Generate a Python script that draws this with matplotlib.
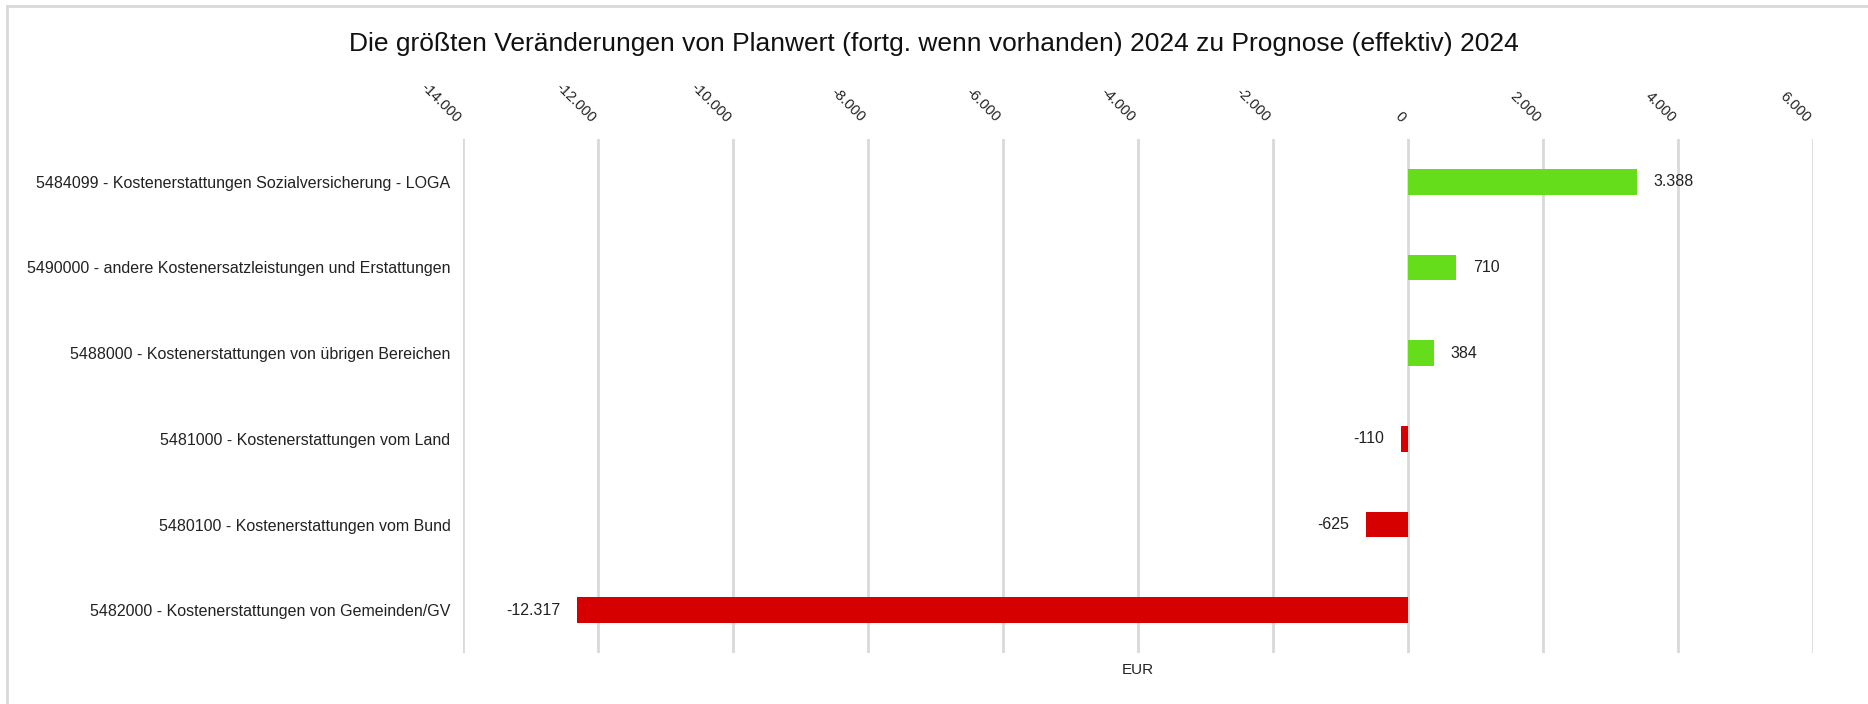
import matplotlib
matplotlib.use("Agg")
import matplotlib.pyplot as plt
from matplotlib.ticker import FuncFormatter, MultipleLocator
from matplotlib.lines import Line2D

plt.rcParams["font.family"] = ["Liberation Sans", "DejaVu Sans"]

# ─── Data ──────────────────────────────────────────────────────────
categories = [
    "5484099 - Kostenerstattungen Sozialversicherung - LOGA",
    "5490000 - andere Kostenersatzleistungen und Erstattungen",
    "5488000 - Kostenerstattungen von übrigen Bereichen",
    "5481000 - Kostenerstattungen vom Land",
    "5480100 - Kostenerstattungen vom Bund",
    "5482000 - Kostenerstattungen von Gemeinden/GV",
]
values = [3388, 710, 384, -110, -625, -12317]

GREEN = "#66DD1A"
RED = "#D60000"
GRID = "#D9D9D9"


def de_fmt(v):
    s = f"{abs(int(round(v))):,}".replace(",", ".")
    return "-" + s if v < 0 else s


fig = plt.figure(figsize=(18.68, 7.04), dpi=100)
ax = fig.add_axes([0.2479, 0.0724, 0.7227, 0.7302])

y = list(range(len(categories)))
colors = [GREEN if v >= 0 else RED for v in values]
ax.barh(y, values, height=0.3, color=colors, zorder=3)
ax.set_ylim(len(categories) - 0.5, -0.5)
ax.set_xlim(-14000, 6000)

for yi, v in zip(y, values):
    if v >= 0:
        ax.annotate(de_fmt(v), xy=(v, yi), xytext=(12, 0), textcoords="offset points",
                    ha="left", va="center", fontsize=11.5, color="#222222")
    else:
        ax.annotate(de_fmt(v), xy=(v, yi), xytext=(-12, 0), textcoords="offset points",
                    ha="right", va="center", fontsize=11.5, color="#222222")

ax.set_yticks(y)
ax.set_yticklabels(categories, fontsize=11.5, color="#222222")
ax.xaxis.set_major_locator(MultipleLocator(2000))
ax.xaxis.set_major_formatter(FuncFormatter(lambda v, p: de_fmt(v)))
ax.tick_params(axis="x", top=True, labeltop=True, bottom=False, labelbottom=False,
               length=0, pad=10, labelsize=10.5, labelcolor="#222222")
ax.tick_params(axis="y", length=0, pad=9)
for lbl in ax.get_xticklabels():
    lbl.set_rotation(-45)
    lbl.set_ha("right")
    lbl.set_va("bottom")

ax.grid(axis="x", color=GRID, linewidth=2, zorder=0)
ax.grid(axis="y", visible=False)
for s in ax.spines.values():
    s.set_visible(False)

ax.set_xlabel("EUR", fontsize=11, color="#222222", labelpad=7)

fig.text(0.5, 0.937,
         "Die größten Veränderungen von Planwert (fortg. wenn vorhanden) 2024 zu Prognose (effektiv) 2024",
         ha="center", va="center", fontsize=19, color="#111111")

# outer frame (top and left edges)
fig.add_artist(Line2D([0.004, 1.0], [0.992, 0.992], transform=fig.transFigure,
                      color=GRID, linewidth=2))
fig.add_artist(Line2D([0.004, 0.004], [0.0, 0.992], transform=fig.transFigure,
                      color=GRID, linewidth=2))

fig.savefig("out.png", dpi=100)
